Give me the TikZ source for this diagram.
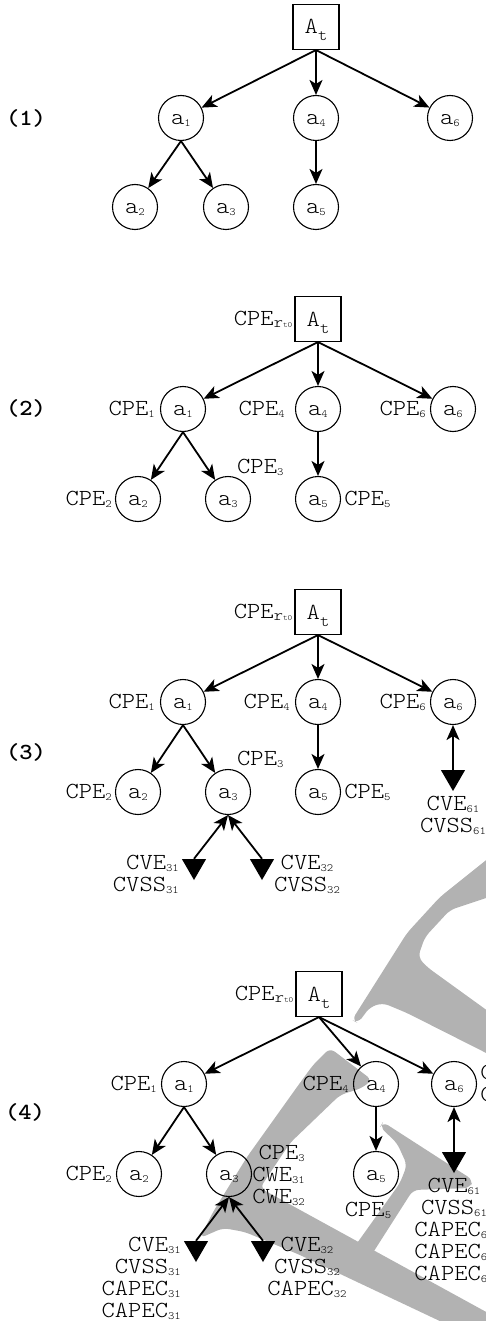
\documentclass[tikz,border=0pt]{standalone}
\usepackage{fontspec}
\newfontfamily\diamono{lmmonolt10-regular.otf}[BoldFont=lmmonolt10-bold.otf, FakeStretch=1.1]
\usepackage{tikz}
\usetikzlibrary{shapes.geometric,arrows.meta,positioning}
\definecolor{watermark}{gray}{0.7}
\newcommand{\diafont}{\diamono\fontsize{23}{22}\selectfont}
\newcommand{\lowidx}[1]{\raisebox{-2pt}{\fontsize{11}{11}\selectfont #1}}
\newcommand{\lowvar}[2][-2pt]{\raisebox{#1}{\fontsize{16}{16}\selectfont #2}}
\newcommand{\tinyidx}[1]{{\fontsize{8}{8}\selectfont #1}}
\tikzstyle{rootbox} = [rectangle, draw, line width=1.1pt, minimum width=46pt,
    minimum height=45pt, inner sep=0pt, text height=14pt, text depth=0pt]
\tikzstyle{assetnode} = [circle, draw, line width=1.1pt, minimum size=45pt,
    inner sep=0pt, text height=13pt, text depth=0pt]
\tikzstyle{vulnmark} = [regular polygon, regular polygon sides=3,
    shape border rotate=180, fill=black, minimum size=28pt, inner sep=0pt]
\tikzstyle{cpetag} = [inner sep=0pt, text height=13pt, text depth=0pt]
\tikzstyle{vulntags} = [inner sep=0pt]
\tikzstyle{panelno} = [font=\diamono\bfseries\fontsize{23}{22}\selectfont]
\tikzstyle{arrow} = [draw, -{Stealth[length=15pt, width=13pt, inset=4pt]}, line width=1.8pt]
\tikzstyle{link} = [draw, {Stealth[length=15pt, width=13pt, inset=4pt]}-, line width=1.8pt]
\begin{document}
\begin{tikzpicture}[x=1pt, y=-1pt, font=\diafont]
			\useasboundingbox (0,0) rectangle (486,1321);
			% Watermark behind panel (4)
			\fill [watermark, rounded corners=6pt] (352,1020) -- (407,933) -- (440,897) -- (510,841) -- (510,890) -- (450,910) -- (425,937) -- (418,957) -- (427,967) -- (510,1027) -- (510,1065) -- (407,1013) -- (383,1003) -- (370,1007) -- (358,1023) -- cycle;
			\fill [watermark, rounded corners=6pt] (330,1048) -- (372,1080) -- (362,1088) -- (340,1095) -- (290,1143) -- (260,1188) -- (510,1325) -- (510,1340) -- (480,1340) -- (300,1255) -- (245,1232) -- (223,1228) -- (200,1238) -- (213,1212) -- (247,1157) -- (297,1087) -- (313,1065) -- cycle;
			\fill [watermark, rounded corners=6pt] (383,1122) -- (473,1180) -- (470,1188) -- (413,1190) -- (367,1262) -- (350,1253) -- (400,1183) -- (407,1165) -- (397,1143) -- (380,1127) -- cycle;

			% Panel (1): place nodes
			\node [rootbox] (rootA) at (316,27) {A\lowvar[-7pt]{t}};
			\node [assetnode, below of=rootA, node distance=91pt] (a4A) {a\lowidx{4}};
			\node [assetnode, left of=a4A, node distance=135pt] (a1A) {a\lowidx{1}};
			\node [assetnode, right of=a4A, node distance=134pt] (a6A) {a\lowidx{6}};
			\node [assetnode, below of=a4A, node distance=89pt] (a5A) {a\lowidx{5}};
			\node [assetnode, left of=a5A, node distance=90pt] (a3A) {a\lowidx{3}};
			\node [assetnode, left of=a3A, node distance=91pt] (a2A) {a\lowidx{2}};
			\node [panelno] (labelA) at (26,118) {(1)};

			% Panel (2): place nodes
			\node [rootbox] (rootB) at (318,319) {A\lowvar[-7pt]{t}};
			\node [assetnode, below of=rootB, node distance=90pt] (a4B) {a\lowidx{4}};
			\node [assetnode, left of=a4B, node distance=135pt] (a1B) {a\lowidx{1}};
			\node [assetnode, right of=a4B, node distance=135pt] (a6B) {a\lowidx{6}};
			\node [assetnode, below of=a4B, node distance=90pt] (a5B) {a\lowidx{5}};
			\node [assetnode, left of=a5B, node distance=90pt] (a3B) {a\lowidx{3}};
			\node [assetnode, left of=a3B, node distance=90pt] (a2B) {a\lowidx{2}};
			\node [cpetag, left=2pt of rootB] (cpeRootB) {CPE\lowvar{r\tinyidx{t0}}};
			\node [cpetag, left=5pt of a1B] (cpe1B) {CPE\lowidx{1}};
			\node [cpetag, left=10pt of a4B] (cpe4B) {CPE\lowidx{4}};
			\node [cpetag, left=4pt of a6B] (cpe6B) {CPE\lowidx{6}};
			\node [cpetag, left=3pt of a2B] (cpe2B) {CPE\lowidx{2}};
			\node [cpetag, anchor=west] (cpe3B) at (237,467) {CPE\lowidx{3}};
			\node [cpetag, right=3pt of a5B] (cpe5B) {CPE\lowidx{5}};
			\node [panelno] (labelB) at (26,408) {(2)};

			% Panel (3): place nodes
			\node [rootbox] (rootC) at (318,612) {A\lowvar[-7pt]{t}};
			\node [assetnode, below of=rootC, node distance=90pt] (a4C) {a\lowidx{4}};
			\node [assetnode, left of=a4C, node distance=135pt] (a1C) {a\lowidx{1}};
			\node [assetnode, right of=a4C, node distance=135pt] (a6C) {a\lowidx{6}};
			\node [assetnode, below of=a4C, node distance=90pt] (a5C) {a\lowidx{5}};
			\node [assetnode, left of=a5C, node distance=90pt] (a3C) {a\lowidx{3}};
			\node [assetnode, left of=a3C, node distance=90pt] (a2C) {a\lowidx{2}};
			\node [cpetag, left=2pt of rootC] (cpeRootC) {CPE\lowvar{r\tinyidx{t0}}};
			\node [cpetag, left=5pt of a1C] (cpe1C) {CPE\lowidx{1}};
			\node [cpetag, left=5pt of a4C] (cpe4C) {CPE\lowidx{4}};
			\node [cpetag, left=4pt of a6C] (cpe6C) {CPE\lowidx{6}};
			\node [cpetag, left=3pt of a2C] (cpe2C) {CPE\lowidx{2}};
			\node [cpetag, anchor=west] (cpe3C) at (237,759) {CPE\lowidx{3}};
			\node [cpetag, right=3pt of a5C] (cpe5C) {CPE\lowidx{5}};
			\node [vulnmark, below of=a6C, node distance=75pt] (v61C) {};
			\node [vulnmark, below of=a3C, node distance=74pt, xshift=-34pt] (v31C) {};
			\node [vulnmark, below of=a3C, node distance=74pt, xshift=34pt] (v32C) {};
			\node [vulntags, align=center, below=5pt of v61C] (tags61C) {CVE\lowidx{61}\\CVSS\lowidx{61}};
			\node [vulntags, align=right, anchor=north east] (tags31C) at (179,855) {CVE\lowidx{31}\\CVSS\lowidx{31}};
			\node [vulntags, align=center, anchor=north] (tags32C) at (307,855) {CVE\lowidx{32}\\CVSS\lowidx{32}};
			\node [panelno] (labelC) at (26,752) {(3)};

			% Panel (4): place nodes
			\node [rootbox] (rootD) at (319,994) {A\lowvar[-7pt]{t}};
			\node [assetnode, below of=rootD, node distance=90pt, xshift=-135pt] (a1D) {a\lowidx{1}};
			\node [assetnode, right of=a1D, node distance=192pt] (a4D) {a\lowidx{4}};
			\node [assetnode, right of=a4D, node distance=78pt] (a6D) {a\lowidx{6}};
			\node [assetnode, below of=a4D, node distance=90pt] (a5D) {a\lowidx{5}};
			\node [assetnode, left of=a5D, node distance=147pt] (a3D) {a\lowidx{3}};
			\node [assetnode, left of=a3D, node distance=90pt] (a2D) {a\lowidx{2}};
			\node [cpetag, left=2pt of rootD] (cpeRootD) {CPE\lowvar{r\tinyidx{t0}}};
			\node [cpetag, left=4pt of a1D] (cpe1D) {CPE\lowidx{1}};
			\node [cpetag, left=4pt of a4D] (cpe4D) {CPE\lowidx{4}};
			\node [cpetag, left=4pt of a2D] (cpe2D) {CPE\lowidx{2}};
			\node [cpetag, below=6pt of a5D, xshift=-8pt] (cpe5D) {CPE\lowidx{5}};
			\node [vulntags, align=right, anchor=north east] (tags3D) at (305,1145) {CPE\lowidx{3}\\CWE\lowidx{31}\\CWE\lowidx{32}};
			\node [vulntags, align=left, right=3pt of a6D] (tags6D) {CPE\lowidx{6}\\CWE\lowidx{61}};
			\node [vulnmark, below of=a6D, node distance=75pt] (v61D) {};
			\node [vulnmark, below of=a3D, node distance=74pt, xshift=-33pt] (v31D) {};
			\node [vulnmark, below of=a3D, node distance=74pt, xshift=34pt] (v32D) {};
			\node [vulntags, align=center, below=5pt of v61D] (tags61D) {CVE\lowidx{61}\\CVSS\lowidx{61}\\CAPEC\lowidx{61}\\CAPEC\lowidx{61}\\CAPEC\lowidx{61}};
			\node [vulntags, align=right, anchor=north east] (tags31D) at (181,1237) {CVE\lowidx{31}\\CVSS\lowidx{31}\\CAPEC\lowidx{31}\\CAPEC\lowidx{31}};
			\node [vulntags, align=center, anchor=north] (tags32D) at (307,1237) {CVE\lowidx{32}\\CVSS\lowidx{32}\\CAPEC\lowidx{32}};
			\node [panelno] (labelD) at (25,1112) {(4)};

			% Draw edges
			\path [arrow] (rootA.south) -- (a1A);
			\path [arrow] (rootA.south) -- (a4A);
			\path [arrow] (rootA.south) -- (a6A);
			\path [arrow] (a1A.south) -- (a2A);
			\path [arrow] (a1A.south) -- (a3A);
			\path [arrow] (a4A.south) -- (a5A);

			\path [arrow] (rootB.south) -- (a1B);
			\path [arrow] (rootB.south) -- (a4B);
			\path [arrow] (rootB.south) -- (a6B);
			\path [arrow] (a1B.south) -- (a2B);
			\path [arrow] (a1B.south) -- (a3B);
			\path [arrow] (a4B.south) -- (a5B);

			\path [arrow] (rootC.south) -- (a1C);
			\path [arrow] (rootC.south) -- (a4C);
			\path [arrow] (rootC.south) -- (a6C);
			\path [arrow] (a1C.south) -- (a2C);
			\path [arrow] (a1C.south) -- (a3C);
			\path [arrow] (a4C.south) -- (a5C);
			\path [link] (a6C.south) -- (v61C.north);
			\path [link] (a3C.south) -- (v31C.north);
			\path [link] (a3C.south) -- (v32C.north);

			\path [arrow] (rootD.south) -- (a1D);
			\path [arrow] (rootD.south) -- (a4D);
			\path [arrow] (rootD.south) -- (a6D);
			\path [arrow] (a1D.south) -- (a2D);
			\path [arrow] (a1D.south) -- (a3D);
			\path [arrow] (a4D.south) -- (a5D);
			\path [link] (a6D.south) -- (v61D.north);
			\path [link] (a3D.south) -- (v31D.north);
			\path [link] (a3D.south) -- (v32D.north);
	\end{tikzpicture}
\end{document}
